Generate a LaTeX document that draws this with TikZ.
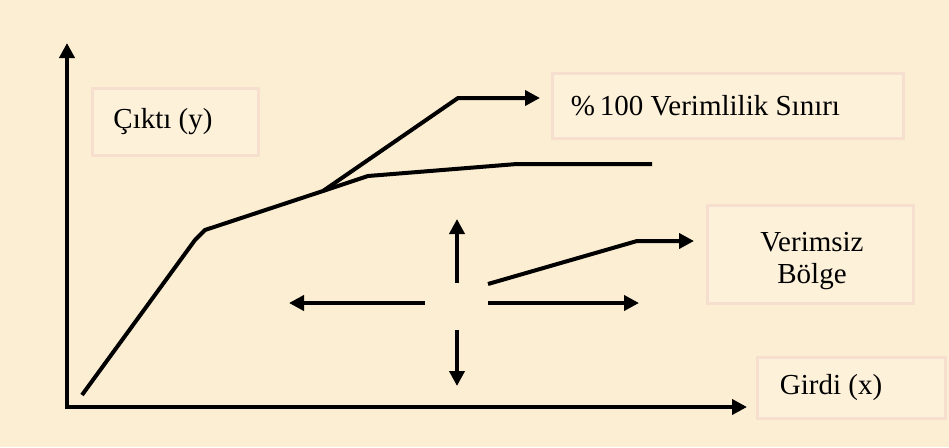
\documentclass[tikz,border=0pt]{standalone}
\usepackage{fontspec}
\setmainfont{Liberation Serif}
\usetikzlibrary{arrows.meta}
\definecolor{bgcream}{HTML}{FCEED2}
\definecolor{boxfill}{HTML}{FDF1DA}
\definecolor{boxline}{HTML}{F7DFCF}
\begin{document}
\begin{tikzpicture}[x=1pt,y=-1pt,
  ln/.style={line width=4pt,line join=miter},
  arr/.style={ln,-{Triangle[length=15pt,width=15pt]}},
  lbl/.style={draw=boxline,fill=boxfill,line width=3pt,inner sep=0pt,font=\fontsize{29}{33}\selectfont,text=black,align=center},
  txt/.style={inner sep=0pt,font=\fontsize{29}{32}\selectfont,text=black,align=center}]
\fill[bgcream] (0,0) rectangle (949,447);
\useasboundingbox (0,0) rectangle (949,447);
% label boxes
\node[lbl,minimum width=166pt,minimum height=67pt] (cikti) at (175,121.5) {\hspace*{-24pt}Çıktı (y)};
\node[lbl,minimum width=351pt,minimum height=65pt] (sinir) at (727.5,105.5) {\hspace*{-44pt}\%\,100 Verimlilik Sınırı};
\node[lbl,minimum width=206pt,minimum height=98pt] (verimsiz) at (810,254) {};
\node[txt] (verimsiztext) at (812,261) {Verimsiz\\Bölge};
\node[lbl,minimum width=188pt,minimum height=61pt] (girdi) at (851,387.5) {\hspace*{-40pt}Girdi (x)};
% axes
\coordinate (o) at (67,407);
\coordinate (ytop) at (67,43);
\coordinate (xend) at (747,407);
\draw[arr,line cap=rect] (o) -- (ytop);
\draw[arr] (o) -- (xend);
% frontier curves
\coordinate (c0) at (82,395);
\coordinate (c1) at (195,240);
\coordinate (c2) at (205,230);
\coordinate (c3) at (323,191);
\coordinate (c4) at (458,98);
\coordinate (c5) at (540,98);
\coordinate (d1) at (368,176);
\coordinate (d2) at (517,164);
\coordinate (d3) at (652,164);
\draw[ln] (c0) -- (c1) -- (c2) -- (c3) -- (d1) -- (d2) -- (d3);
\draw[arr] (c3) -- (c4) -- (c5);
% inefficient region arrows
\coordinate (up0) at (457,283);
\coordinate (up1) at (457,219);
\coordinate (dn0) at (457,330);
\coordinate (dn1) at (457,386);
\coordinate (lf0) at (425,303);
\coordinate (lf1) at (289,303);
\coordinate (rt0) at (488,303);
\coordinate (rt1) at (639,303);
\coordinate (s0) at (488,284);
\coordinate (s1) at (637,241);
\coordinate (s2) at (694,241);
\draw[arr] (up0) -- (up1);
\draw[arr] (dn0) -- (dn1);
\draw[arr] (lf0) -- (lf1);
\draw[arr] (rt0) -- (rt1);
\draw[arr] (s0) -- (s1) -- (s2);
\end{tikzpicture}
\end{document}
